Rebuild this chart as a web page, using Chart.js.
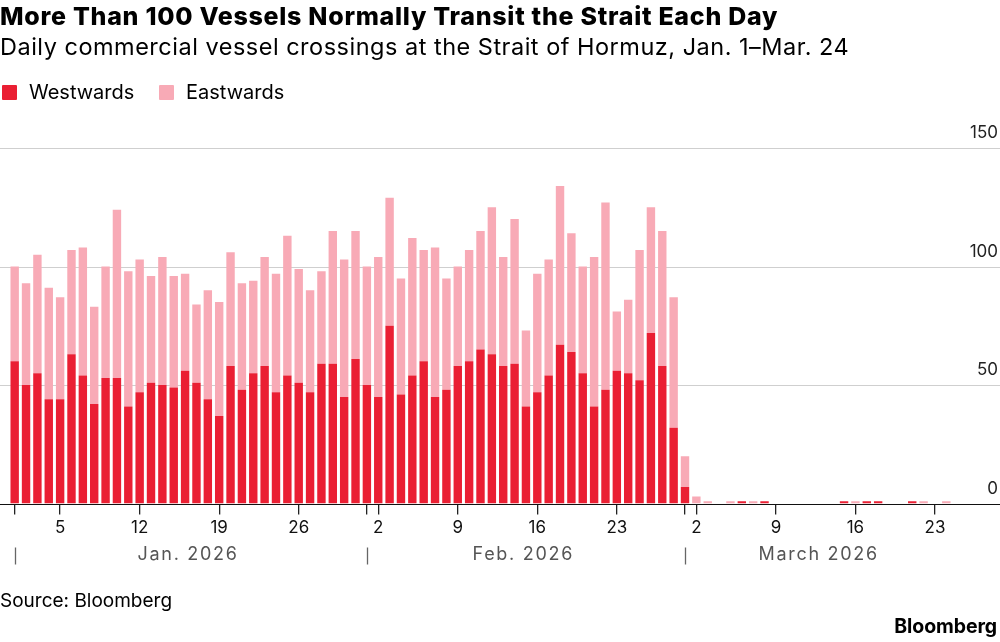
<!DOCTYPE html>
<html>
<head>
<meta charset="utf-8">
<script src="https://cdn.jsdelivr.net/npm/chart.js@4.4.1/dist/chart.umd.min.js"></script>
<style>
  html, body { margin: 0; padding: 0; background: #fff; }
  body { width: 1000px; height: 642px; position: relative; overflow: hidden; font-family: Inter, "Liberation Sans", sans-serif; color: #000; }
  #wrap { position: absolute; left: 0; top: 0; width: 1000px; height: 642px; }
  .title { position: absolute; left: 0; top: 1px; font-size: 25px; font-weight: 800; letter-spacing: 0.72px; white-space: nowrap; }
  .subtitle { position: absolute; left: 0; top: 32px; font-size: 23.5px; font-weight: 400; letter-spacing: 0.5px; white-space: nowrap; }
  .legend { position: absolute; left: 0; top: 80px; font-size: 20px; display: flex; align-items: center; white-space: nowrap; }
  .legend .sw { display: inline-block; width: 15px; height: 15px; margin: 0 12px 0 2px; border-radius: 1px; }
  .legend .item { display: flex; align-items: center; }
  .source { position: absolute; left: 0; top: 589px; font-size: 19px; white-space: nowrap; }
  .logo { position: absolute; right: 3px; top: 614px; font-size: 19.5px; font-weight: 700; letter-spacing: -0.1px; white-space: nowrap; }
</style>
</head>
<body>
<div id="wrap"><canvas id="myChart" width="1000" height="642"></canvas></div>
<div class="title">More Than 100 Vessels Normally Transit the Strait Each Day</div>
<div class="subtitle">Daily commercial vessel crossings at the Strait of Hormuz, Jan. 1–Mar. 24</div>
<div class="legend">
  <span class="item" style="width:157px"><span class="sw" style="background:#ea1f33"></span>Westwards</span>
  <span class="item"><span class="sw" style="background:#f8aab6"></span>Eastwards</span>
</div>
<div class="source">Source: Bloomberg</div>
<div class="logo">Bloomberg</div>
<script>
// Months shown on the axis and how many days of each are in the data
let monthNames = ['Jan. 2026', 'Feb. 2026', 'March 2026'];
let monthDays = [31, 28, 24];

// Days that get a labelled tick (Mondays), as "month-day"
let tickDays = ['1-5', '1-12', '1-19', '1-26', '2-2', '2-9', '2-16', '2-23', '3-2', '3-9', '3-16', '3-23'];

// y axis ticks
let yTicks = [0, 50, 100, 150];

// Daily crossings, Jan 1 .. Mar 24
let westwards = [
  60, 50, 55, 44, 44, 63, 54, 42, 53, 53, 41, 47, 51, 50, 49, 56, 51, 44, 37, 58, 48,
  55, 58, 47, 54, 51, 47, 59, 59, 45, 61,
  50, 45, 75, 46, 54, 60, 45, 48, 58, 60, 65, 63, 58, 59, 41, 47, 54, 67, 64, 55, 41,
  48, 56, 55, 52, 72, 58, 32,
  7, 0, 0, 0, 0, 1, 0, 1, 0, 0, 0, 0, 0, 0, 1, 0, 1, 1, 0, 0, 1, 0, 0, 0
];
let eastwards = [
  40, 43, 50, 47, 43, 44, 54, 41, 47, 71, 57, 56, 45, 54, 47, 41, 33, 46, 48, 48, 45,
  39, 46, 50, 59, 48, 43, 39, 56, 58, 54,
  50, 59, 54, 49, 58, 47, 63, 47, 42, 47, 50, 62, 46, 61, 32, 50, 49, 67, 50, 45, 63,
  79, 25, 31, 55, 53, 57, 55,
  13, 3, 1, 0, 1, 0, 1, 0, 0, 0, 0, 0, 0, 0, 0, 1, 0, 0, 0, 0, 0, 1, 0, 1
];

// category keys "month-day"
let labels = [];
monthDays.forEach((n, m) => {
  for (let d = 1; d <= n; d++) labels.push((m + 1) + '-' + d);
});

// labelled days plus the first of each month get a tick mark
function isMarked(i) {
  let key = labels[i];
  return tickDays.includes(key) || key.split('-')[1] === '1';
}

// gridlines + y labels across the full width, and the black baseline
let gridPlugin = {
  id: 'fullGrid',
  beforeDatasetsDraw(chart) {
    let ctx = chart.ctx;
    let y = chart.scales.y;
    ctx.save();
    ctx.strokeStyle = '#cfcfcf';
    ctx.lineWidth = 1;
    ctx.fillStyle = '#222';
    ctx.font = '17px Inter, "Liberation Sans", sans-serif';
    ctx.textAlign = 'right';
    ctx.textBaseline = 'alphabetic';
    yTicks.forEach(v => {
      let py = Math.round(y.getPixelForValue(v)) + 0.5;
      if (v > 0) {
        ctx.beginPath();
        ctx.moveTo(0, py);
        ctx.lineTo(chart.width, py);
        ctx.stroke();
      }
      ctx.fillText(String(v), 998, py - 11);
    });
    ctx.restore();
  },
  afterDatasetsDraw(chart) {
    let ctx = chart.ctx;
    let y = chart.scales.y;
    let x = chart.scales.x;
    ctx.save();
    let py = Math.round(y.getPixelForValue(0)) + 0.5;
    ctx.strokeStyle = '#111';
    ctx.lineWidth = 1.2;
    ctx.beginPath();
    ctx.moveTo(0, py);
    ctx.lineTo(chart.width, py);
    ctx.stroke();

    // month row
    ctx.font = '18px Inter, "Liberation Sans", sans-serif';
    ctx.letterSpacing = '1.7px';
    ctx.fillStyle = '#555';
    ctx.textAlign = 'center';
    ctx.textBaseline = 'middle';
    ctx.strokeStyle = '#666';
    ctx.lineWidth = 1.3;
    let start = 0;
    monthNames.forEach((name, m) => {
      let end = start + monthDays[m] - 1;
      let x1 = x.getPixelForValue(start);
      let x2 = x.getPixelForValue(end);
      ctx.beginPath();
      ctx.moveTo(Math.round(x1) + 0.5, py + 43);
      ctx.lineTo(Math.round(x1) + 0.5, py + 60);
      ctx.stroke();
      ctx.fillText(name, (x1 + x2) / 2 + 3, py + 50);
      start = end + 1;
    });
    ctx.restore();
  }
};

let ctx = document.getElementById('myChart').getContext('2d');
let chart = new Chart(ctx, {
  type: 'bar',
  data: {
    labels: labels,
    datasets: [{
      label: 'Westwards',
      data: westwards,
      backgroundColor: '#ea1f33',
      barPercentage: 0.74,
      categoryPercentage: 1
    }, {
      label: 'Eastwards',
      data: eastwards,
      backgroundColor: '#f8aab6',
      barPercentage: 0.74,
      categoryPercentage: 1
    }]
  },
  options: {
    responsive: false,
    animation: false,
    layout: { padding: { left: 9, right: 48, top: 148, bottom: 101 } },
    plugins: { legend: { display: false }, tooltip: { enabled: false } },
    scales: {
      x: {
        stacked: true,
        offset: true,
        border: { display: false },
        grid: {
          offset: false,
          drawOnChartArea: false,
          drawTicks: true,
          tickLength: 11,
          lineWidth: 1.3,
          color: c => isMarked(c.index) ? '#222' : 'rgba(0,0,0,0)'
        },
        ticks: {
          autoSkip: false,
          maxRotation: 0,
          padding: 3,
          color: '#111',
          font: { family: 'Inter, "Liberation Sans", sans-serif', size: 17 },
          callback: (v, i) => tickDays.includes(labels[i]) ? labels[i].split('-')[1] : ''
        }
      },
      y: {
        stacked: true,
        display: false,
        min: 0,
        max: 150
      }
    }
  },
  plugins: [gridPlugin]
});
</script>
</body>
</html>
